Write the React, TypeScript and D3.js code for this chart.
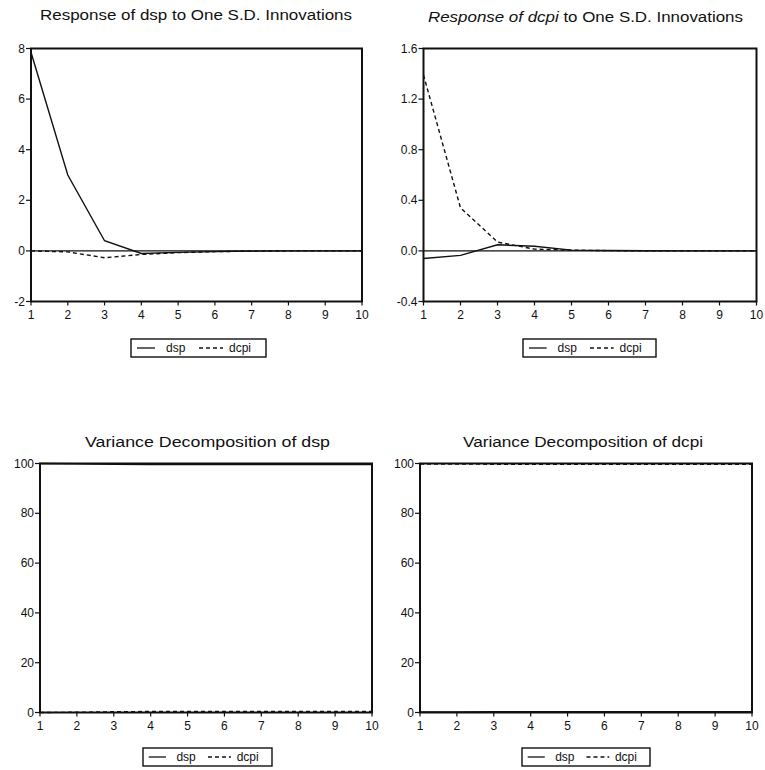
import React from "react";
import * as d3 from "d3";

const periods = [1, 2, 3, 4, 5, 6, 7, 8, 9, 10];

// Impulse responses
const irfDspToDsp = [7.85, 3.0, 0.4, -0.1, -0.06, -0.03, -0.01, 0.0, 0.0, 0.0];
const irfDspToDcpi = [0.0, -0.04, -0.27, -0.14, -0.07, -0.03, -0.01, 0.0, 0.0, 0.0];
const irfDcpiToDsp = [-0.06, -0.035, 0.048, 0.037, 0.006, 0.003, 0.001, 0.0, 0.0, 0.0];
const irfDcpiToDcpi = [1.39, 0.34, 0.07, 0.014, 0.006, 0.002, 0.001, 0.0, 0.0, 0.0];

// Variance decompositions
const vdDspByDsp = [100, 99.9, 99.7, 99.6, 99.6, 99.6, 99.6, 99.6, 99.6, 99.6];
const vdDspByDcpi = [0, 0.1, 0.3, 0.4, 0.4, 0.4, 0.4, 0.4, 0.4, 0.4];
const vdDcpiByDsp = [0.2, 0.2, 0.3, 0.3, 0.3, 0.3, 0.3, 0.3, 0.3, 0.3];
const vdDcpiByDcpi = [99.8, 99.8, 99.7, 99.7, 99.7, 99.7, 99.7, 99.7, 99.7, 99.7];

const yTicksIrfDsp = [-2, 0, 2, 4, 6, 8];
const yTicksIrfDcpi = [-0.4, 0.0, 0.4, 0.8, 1.2, 1.6];
const yTicksVd = [0, 20, 40, 60, 80, 100];

const seriesNames = ["dsp", "dcpi"];

type PanelCfg = {
  left: number; right: number; top: number; bottom: number;
  titleX: number; titleW: number; titleY: number;
  titleItalic: string; titleRest: string;
  domain: [number, number]; ticks: number[]; fmt: (v: number) => string;
  solid: number[]; dashed: number[]; zeroLine: boolean;
  legendX: number; legendY: number; legendW: number;
};

const font = "'Liberation Sans', Arial, sans-serif";
const hy = (f: (v: number) => string) => (v: number) => f(v).replace("\u2212", "-");

const panels: PanelCfg[] = [
  {
    left: 31, right: 362, top: 48.5, bottom: 301.5,
    titleX: 40, titleW: 312, titleY: 20,
    titleItalic: "", titleRest: "Response of dsp to One S.D. Innovations",
    domain: [-2, 8], ticks: yTicksIrfDsp, fmt: hy(d3.format("d")),
    solid: irfDspToDsp, dashed: irfDspToDcpi, zeroLine: true,
    legendX: 131, legendY: 339, legendW: 135,
  },
  {
    left: 423.5, right: 756.5, top: 48.5, bottom: 301.5,
    titleX: 428, titleW: 315, titleY: 22,
    titleItalic: "Response of dcpi", titleRest: " to One S.D. Innovations",
    domain: [-0.4, 1.6], ticks: yTicksIrfDcpi, fmt: hy(d3.format(".1f")),
    solid: irfDcpiToDsp, dashed: irfDcpiToDcpi, zeroLine: true,
    legendX: 523, legendY: 339, legendW: 133,
  },
  {
    left: 40, right: 372, top: 463.5, bottom: 712.5,
    titleX: 85, titleW: 245, titleY: 447,
    titleItalic: "", titleRest: "Variance Decomposition of dsp",
    domain: [0, 100], ticks: yTicksVd, fmt: hy(d3.format("d")),
    solid: vdDspByDsp, dashed: vdDspByDcpi, zeroLine: false,
    legendX: 143, legendY: 748, legendW: 129,
  },
  {
    left: 420, right: 752, top: 463.5, bottom: 712.5,
    titleX: 463, titleW: 240, titleY: 447,
    titleItalic: "", titleRest: "Variance Decomposition of dcpi",
    domain: [0, 100], ticks: yTicksVd, fmt: hy(d3.format("d")),
    solid: vdDcpiByDsp, dashed: vdDcpiByDcpi, zeroLine: false,
    legendX: 522, legendY: 748, legendW: 128,
  },
];

function Panel({ p }: { p: PanelCfg }) {
  const x = d3.scaleLinear().domain([1, 10]).range([p.left, p.right]);
  const y = d3.scaleLinear().domain(p.domain).range([p.bottom, p.top]);
  const line = d3
    .line<number>()
    .x((_, i) => x(periods[i]))
    .y((d) => y(d));
  const lh = p.legendY;
  const lw = p.legendW;
  const s = lw / 135;
  return (
    <g>
      <text
        x={p.titleX}
        y={p.titleY}
        fontFamily={font}
        fontSize={14}
        textLength={p.titleW}
        lengthAdjust="spacingAndGlyphs"
        fill="#111"
      >
        {p.titleItalic ? <tspan fontStyle="italic">{p.titleItalic}</tspan> : null}
        <tspan>{p.titleRest}</tspan>
      </text>
      {p.zeroLine && (
        <line x1={p.left} x2={p.right} y1={y(0)} y2={y(0)} stroke="#111" strokeWidth={1.4} />
      )}
      <path d={line(p.solid) || ""} fill="none" stroke="#111" strokeWidth={1.4} />
      <path d={line(p.dashed) || ""} fill="none" stroke="#111" strokeWidth={1.4} strokeDasharray="4,3" />
      <rect
        x={p.left}
        y={p.top}
        width={p.right - p.left}
        height={p.bottom - p.top}
        fill="none"
        stroke="#111"
        strokeWidth={2}
      />
      {p.ticks.map((t) => (
        <g key={"y" + t}>
          <line x1={p.left - 5} x2={p.left} y1={y(t)} y2={y(t)} stroke="#111" strokeWidth={1.2} />
          <text
            x={p.left - 6}
            y={y(t) + 4}
            textAnchor="end"
            fontFamily={font}
            fontSize={12}
            fill="#111"
          >
            {p.fmt(t)}
          </text>
        </g>
      ))}
      {periods.map((t) => (
        <g key={"x" + t}>
          <line x1={x(t)} x2={x(t)} y1={p.bottom} y2={p.bottom + 4} stroke="#111" strokeWidth={1.2} />
          <text
            x={x(t)}
            y={p.bottom + 17}
            textAnchor="middle"
            fontFamily={font}
            fontSize={12}
            fill="#111"
          >
            {t}
          </text>
        </g>
      ))}
      <g>
        <rect x={p.legendX} y={lh} width={lw} height={18} fill="none" stroke="#111" strokeWidth={1.4} />
        <line x1={p.legendX + 6 * s} x2={p.legendX + 24 * s} y1={lh + 9} y2={lh + 9} stroke="#111" strokeWidth={1.3} />
        <text x={p.legendX + 35 * s} y={lh + 13} fontFamily={font} fontSize={12} fill="#111">
          {seriesNames[0]}
        </text>
        <line
          x1={p.legendX + 68 * s}
          x2={p.legendX + 92 * s}
          y1={lh + 9}
          y2={lh + 9}
          stroke="#111"
          strokeWidth={1.3}
          strokeDasharray="4,3"
        />
        <text x={p.legendX + 98 * s} y={lh + 13} fontFamily={font} fontSize={12} fill="#111">
          {seriesNames[1]}
        </text>
      </g>
    </g>
  );
}

export default function App() {
  return (
    <svg
      width={765}
      height={770}
      style={{ position: "absolute", left: 0, top: 0, background: "#fff" }}
    >
      <rect x={0} y={0} width={765} height={770} fill="#fff" />
      {panels.map((p, i) => (
        <Panel key={i} p={p} />
      ))}
    </svg>
  );
}
